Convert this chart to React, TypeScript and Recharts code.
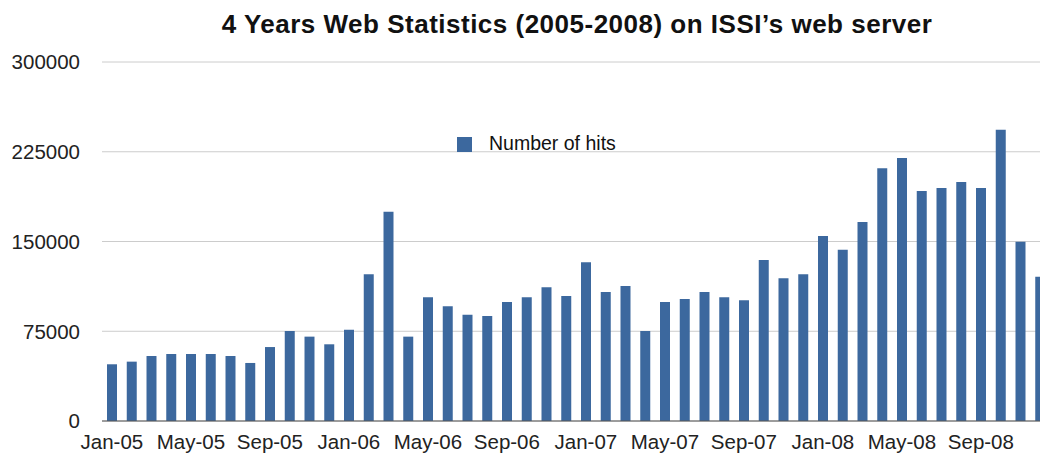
import { BarChart, Bar, XAxis, YAxis, CartesianGrid, Legend } from 'recharts';

const years = ['05', '06', '07', '08'];
const monthNames = ['Jan', 'Feb', 'Mar', 'Apr', 'May', 'Jun', 'Jul', 'Aug', 'Sep', 'Oct', 'Nov', 'Dec'];
const months = years.flatMap((y) => monthNames.map((m) => `${m}-${y}`));

const hits2005 = [47400, 49600, 54300, 56000, 56000, 56000, 54300, 48500, 61800, 75200, 70500, 64100];
const hits2006 = [76300, 122600, 174900, 70500, 103400, 95800, 88800, 87700, 99500, 103400, 111700, 104500];
const hits2007 = [132600, 107800, 112800, 75200, 99500, 102000, 107800, 103400, 100900, 134500, 119200, 122600];
const hits2008 = [154600, 143200, 166300, 211200, 219800, 192200, 194700, 199700, 194700, 243400, 149800, 120600];

const hits = [...hits2005, ...hits2006, ...hits2007, ...hits2008];
const yTicks = [0, 75000, 150000, 225000, 300000];

const data = months.map((month, i) => ({ month, hits: hits[i] }));

const font = '"Liberation Sans", Arial, Helvetica, sans-serif';

export default function App() {
  return (
    <div style={{ position: 'fixed', left: 0, top: 0, width: 1040, height: 456, overflow: 'hidden', background: '#fff', fontFamily: font }}>
      <div
        style={{
          position: 'absolute',
          left: 0,
          width: 1154,
          top: 9,
          textAlign: 'center',
          fontSize: 26,
          letterSpacing: 0.5,
          fontWeight: 'bold',
          color: '#111',
          whiteSpace: 'nowrap',
        }}
      >
        4 Years Web Statistics (2005-2008) on ISSI’s web server
      </div>
      <BarChart width={1060} height={456} data={data} margin={{ top: 62, right: 10, bottom: 0, left: 0 }}>
        <CartesianGrid vertical={false} stroke="#cccccc" />
        <XAxis
          dataKey="month"
          interval={3}
          height={35}
          tickLine={false}
          tickSize={6}
          tickMargin={7}
          axisLine={{ stroke: '#555' }}
          tick={{ fontSize: 20.5, fill: '#222', fontFamily: font }}
        />
        <YAxis
          width={102}
          domain={[0, 300000]}
          ticks={yTicks}
          axisLine={false}
          tickLine={false}
          tickSize={6}
          tickMargin={16}
          tick={{ fontSize: 20.5, fill: '#222', fontFamily: font }}
        />
        <Legend
          verticalAlign="middle"
          align="center"
          iconType="square"
          iconSize={15}
          wrapperStyle={{ top: 132, left: 457, width: 'auto', fontSize: 19.5, fontFamily: font }}
          formatter={(value) => <span style={{ color: '#111', marginLeft: 13 }}>{value}</span>}
        />
        <Bar dataKey="hits" name="Number of hits" fill="#3c689e" barSize={10} isAnimationActive={false} />
      </BarChart>
    </div>
  );
}
